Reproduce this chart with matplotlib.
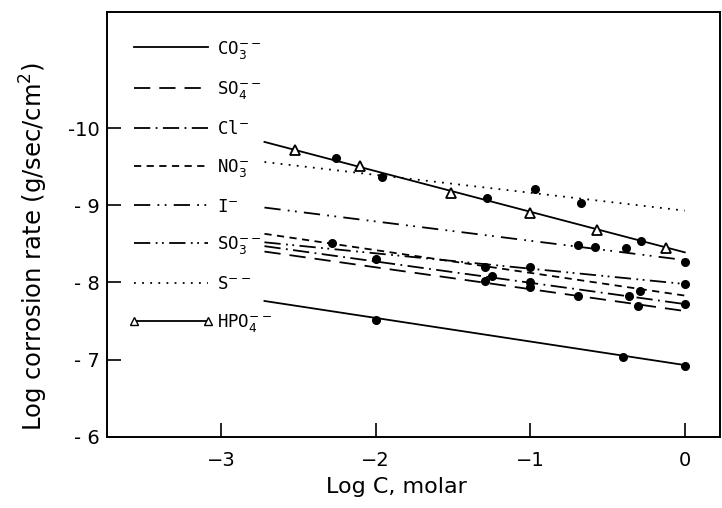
import matplotlib.pyplot as plt
from matplotlib.lines import Line2D

# fitted straight lines, drawn over the range of log C used
line_x = [-2.72, 0.0]
co3_line = [-7.76, -6.93]
so4_line = [-8.40, -7.63]
cl_line = [-8.47, -7.72]
no3_line = [-8.63, -7.83]
i_line = [-8.97, -8.29]
so3_line = [-8.52, -7.98]
s_line = [-9.56, -8.93]
hpo4_line = [-9.82, -8.39]

# measured points
co3_x = [-2.0, -0.40, 0.0]
co3_y = [-7.52, -7.04, -6.92]
so4_x = [-1.29, -1.0, -0.69, -0.30]
so4_y = [-8.02, -7.94, -7.82, -7.70]
cl_x = [-2.0, -1.245, -1.0, -0.36, 0.0]
cl_y = [-8.30, -8.08, -8.00, -7.82, -7.72]
no3_x = [-2.28, -1.29, -0.29]
no3_y = [-8.51, -8.20, -7.89]
i_x = [-0.69, -0.58, -0.38, 0.0]
i_y = [-8.49, -8.46, -8.44, -8.27]
so3_x = [-1.0, 0.0]
so3_y = [-8.20, -7.98]
s_x = [-1.96, -0.97, -0.67]
s_y = [-9.37, -9.21, -9.03]
hpo4_x = [-2.52, -2.10, -1.51, -1.00, -0.565, -0.12]
hpo4_y = [-9.71, -9.51, -9.16, -8.90, -8.68, -8.45]
hpo4_dot_x = [-2.26, -1.28, -0.28]
hpo4_dot_y = [-9.61, -9.09, -8.54]

x_ticks = [-3, -2, -1, 0]
x_tick_labels = ['\u22123', '\u22122', '\u22121', '0']
y_ticks = [-10, -9, -8, -7, -6]
y_tick_labels = ['-10', '- 9', '- 8', '- 7', '- 6']

styles = {
    'co3': '-',
    'so4': (0, (9, 5)),
    'cl': (0, (9, 3, 1, 3)),
    'no3': (0, (4, 3)),
    'i': (0, (9, 4, 1, 3, 1, 4)),
    'so3': (0, (9, 3, 1, 2.5, 1, 3)),
    's': (0, (1, 3.5)),
    'hpo4': '-',
}
labels = {
    'co3': r'CO$_3^{--}$',
    'so4': r'SO$_4^{--}$',
    'cl': r'Cl$^{-}$',
    'no3': r'NO$_3^{-}$',
    'i': r'I$^{-}$',
    'so3': r'SO$_3^{--}$',
    's': r'S$^{--}$',
    'hpo4': r'HPO$_4^{--}$',
}

fig = plt.figure(figsize=(7.22, 5.08), dpi=100)
ax = fig.add_axes([0.148, 0.140, 0.849, 0.836])
lw = 1.3
k = 'black'

series = [
    ('co3', co3_line, co3_x, co3_y),
    ('so4', so4_line, so4_x, so4_y),
    ('cl', cl_line, cl_x, cl_y),
    ('no3', no3_line, no3_x, no3_y),
    ('i', i_line, i_x, i_y),
    ('so3', so3_line, so3_x, so3_y),
    ('s', s_line, s_x, s_y),
]
for key, ly, px, py in series:
    ax.plot(line_x, ly, color=k, lw=lw, ls=styles[key])
    ax.plot(px, py, 'o', color=k, ms=5.5)

ax.plot(line_x, hpo4_line, color=k, lw=lw)
ax.plot(hpo4_dot_x, hpo4_dot_y, 'o', color=k, ms=5.5)
ax.plot(hpo4_x, hpo4_y, '^', mfc='white', mec=k, mew=1.3, ms=7)

handles = []
for key in ['co3', 'so4', 'cl', 'no3', 'i', 'so3', 's']:
    handles.append(Line2D([], [], color=k, lw=lw, ls=styles[key], label=labels[key]))
handles.append(Line2D([], [], color=k, lw=lw, marker='^', mfc='white', mec=k,
                      ms=6, label=labels['hpo4']))
leg = ax.legend(handles=handles, loc='upper left', bbox_to_anchor=(0.035, 0.938),
                frameon=False, handlelength=4.9, handletextpad=0.2,
                labelspacing=1.08, borderpad=0, borderaxespad=0, numpoints=2,
                prop={'family': 'DejaVu Sans Mono', 'size': 12.5})

ax.set_xlim(-3.74, 0.227)
ax.set_ylim(-6, -11.5)
ax.set_xticks(x_ticks)
ax.set_xticklabels(x_tick_labels, fontsize=14)
ax.set_yticks(y_ticks)
ax.set_yticklabels(y_tick_labels, fontsize=14)
ax.tick_params(direction='in', length=10, width=1.2)
ax.tick_params(axis='x', pad=10)
ax.tick_params(axis='y', pad=5)
for sp in ax.spines.values():
    sp.set_linewidth(1.4)

ax.set_xlabel('Log C, molar', fontsize=16)
ax.xaxis.set_label_coords(0.473, -0.095)
ax.set_ylabel(r'Log corrosion rate (g/sec/cm$^2$)', fontsize=17.5)
ax.yaxis.set_label_coords(-0.093, 0.449)

fig.savefig('out.png', dpi=100)
